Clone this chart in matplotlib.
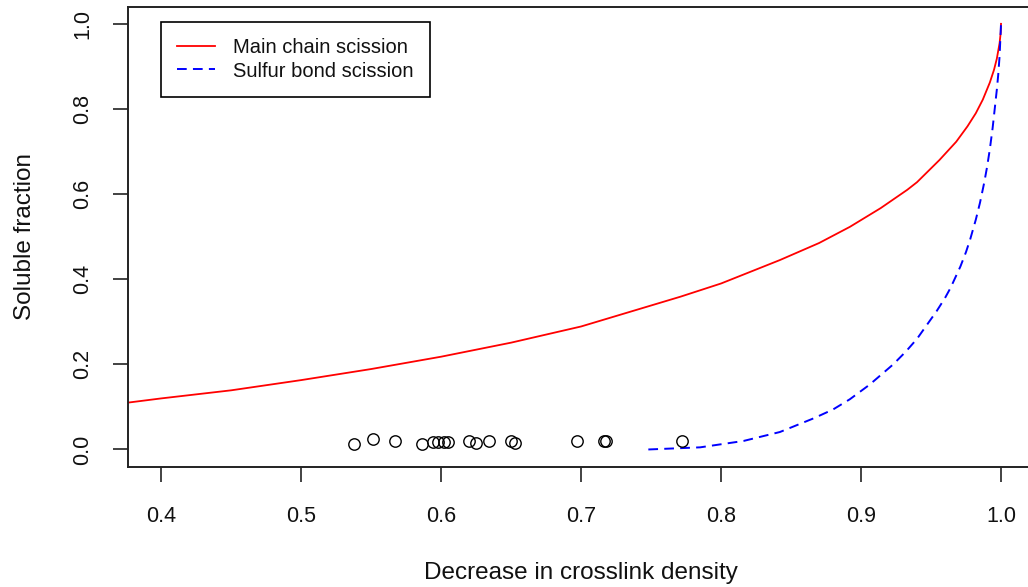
import matplotlib
matplotlib.use("Agg")
import matplotlib.pyplot as plt
from matplotlib import font_manager

# ---- data ----
main_x = [0.370, 0.376, 0.400, 0.450, 0.500, 0.550, 0.600, 0.650, 0.700, 0.771,
          0.800, 0.842, 0.870, 0.892, 0.914, 0.933, 0.940, 0.956, 0.968, 0.976,
          0.982, 0.987, 0.992, 0.995, 0.997, 0.999, 0.9998, 1.000]
main_y = [0.107, 0.110, 0.120, 0.139, 0.163, 0.189, 0.218, 0.251, 0.289, 0.359,
          0.390, 0.445, 0.485, 0.523, 0.567, 0.610, 0.628, 0.680, 0.723, 0.759,
          0.790, 0.822, 0.862, 0.892, 0.918, 0.955, 0.980, 1.000]

sulfur_x = [0.748, 0.785, 0.816, 0.842, 0.866, 0.880, 0.892, 0.906, 0.923, 0.932,
            0.940, 0.954, 0.960, 0.964, 0.971, 0.975, 0.978, 0.982, 0.985, 0.988,
            0.990, 0.992, 0.994, 0.997, 0.998, 0.999, 1.000]
sulfur_y = [0.000, 0.005, 0.020, 0.041, 0.073, 0.094, 0.118, 0.152, 0.200, 0.230,
            0.260, 0.325, 0.356, 0.380, 0.430, 0.464, 0.494, 0.540, 0.580, 0.627,
            0.663, 0.705, 0.755, 0.845, 0.880, 0.925, 1.000]

obs_x = [0.538, 0.551, 0.567, 0.586, 0.594, 0.598, 0.602, 0.605, 0.620, 0.625,
         0.634, 0.650, 0.653, 0.697, 0.716, 0.718, 0.772]
obs_y = [0.013, 0.024, 0.021, 0.013, 0.018, 0.018, 0.018, 0.018, 0.021, 0.016,
         0.021, 0.021, 0.016, 0.021, 0.020, 0.020, 0.020]

x_ticks = [0.4, 0.5, 0.6, 0.7, 0.8, 0.9, 1.0]
x_tick_labels = ["0.4", "0.5", "0.6", "0.7", "0.8", "0.9", "1.0"]
y_ticks = [0.0, 0.2, 0.4, 0.6, 0.8, 1.0]
y_tick_labels = ["0.0", "0.2", "0.4", "0.6", "0.8", "1.0"]

legend_labels = ["Main chain scission", "Sulfur bond scission"]
x_label = "Decrease in crosslink density"
y_label = "Soluble fraction"

# ---- styling ----
names = {f.name for f in font_manager.fontManager.ttflist}
base_font = "Liberation Sans" if "Liberation Sans" in names else "DejaVu Sans"
plt.rcParams["font.family"] = [base_font, "DejaVu Sans"]

W, H = 1028, 587
fig = plt.figure(figsize=(W / 100, H / 100), dpi=100)
ax_left, ax_right = 127.7, 1034.6
ax_top, ax_bottom = 6.8, 466.5
ax = fig.add_axes([ax_left / W, 1 - ax_bottom / H,
                   (ax_right - ax_left) / W, (ax_bottom - ax_top) / H])

ax.plot(main_x, main_y, color="#FF0000", lw=1.3, label=legend_labels[0])
ax.plot(sulfur_x, sulfur_y, color="#0000FF", lw=1.4, dashes=(5.0, 3.2),
        label=legend_labels[1])
ax.plot(obs_x, obs_y, linestyle="none", marker="o", markersize=8.2,
        markerfacecolor="none", markeredgecolor="black", markeredgewidth=1.0)

ax.set_xlim(0.376, 1.024)
ax.set_ylim(-0.04, 1.04)

ax.set_xticks(x_ticks)
ax.set_xticklabels(x_tick_labels)
ax.set_yticks(y_ticks)
ax.set_yticklabels(y_tick_labels)

spine_col = "#222222"
for s in ax.spines.values():
    s.set_linewidth(1.4)
    s.set_color(spine_col)

ax.tick_params(axis="both", direction="out", length=10.8, width=1.2,
               color=spine_col, labelcolor="#111111", labelsize=15.5)
ax.tick_params(axis="x", pad=18)
ax.tick_params(axis="y", pad=14, labelrotation=90)
for lab in ax.get_yticklabels():
    lab.set_va("center")

ax.set_xlabel(x_label, fontsize=17.5, color="#111111")
ax.set_ylabel(y_label, fontsize=17.5, color="#111111")
ax.xaxis.set_label_coords(0.5, -(573 - ax_bottom) / (ax_bottom - ax_top))
ax.xaxis.label.set_va("center")
ax.yaxis.set_label_coords(-(127.7 - 25) / (ax_right - ax_left), 0.5)
ax.yaxis.label.set_va("center")

leg = ax.legend(loc="upper left",
                bbox_to_anchor=((161 - ax_left) / (ax_right - ax_left),
                                1 - (22 - ax_top) / (ax_bottom - ax_top)),
                borderaxespad=0, frameon=True, fancybox=False,
                edgecolor="black", framealpha=1,
                prop={"family": [base_font, "DejaVu Sans"], "size": 14.5},
                handlelength=1.89, handletextpad=0.9, borderpad=0.8,
                labelspacing=0.22)
leg.get_frame().set_linewidth(1.2)
for t in leg.get_texts():
    t.set_color("#111111")

fig.savefig("out.png", dpi=100)
